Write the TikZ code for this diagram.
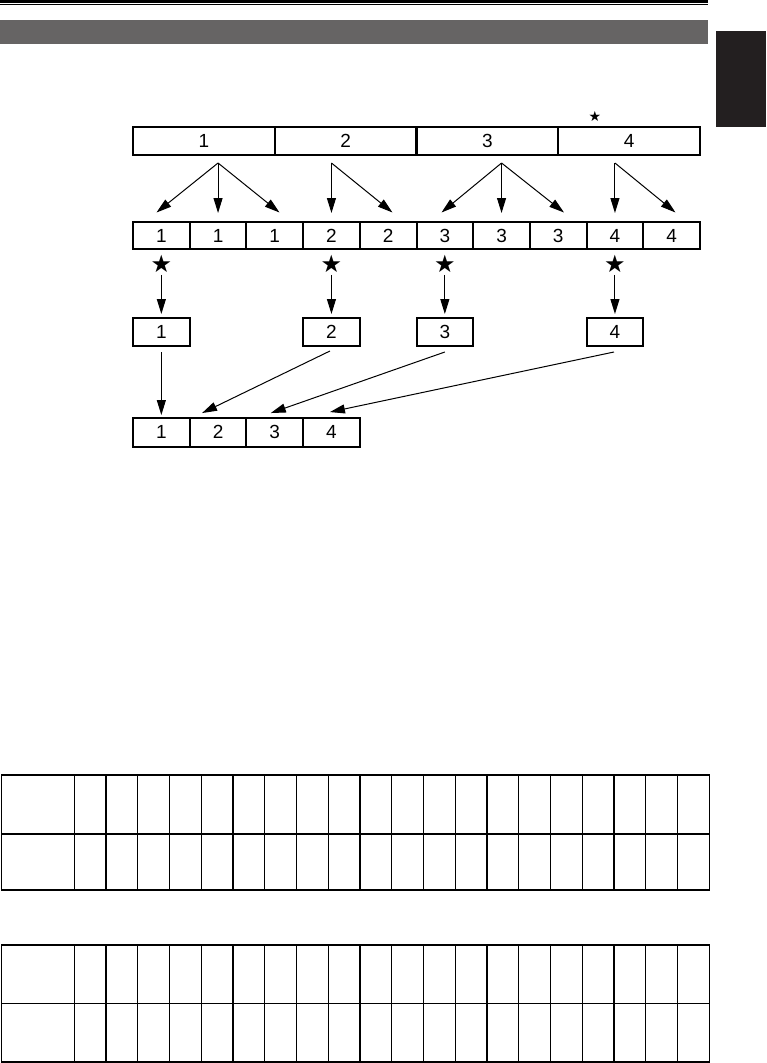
\documentclass[tikz,border=0pt]{standalone}
\usepackage{fontspec}
\setmainfont{Liberation Sans}
\newfontfamily\symfont{DejaVu Sans}
\usetikzlibrary{arrows.meta}
\definecolor{barGray}{HTML}{666464}
\definecolor{tabBlack}{HTML}{231F20}
\begin{document}
\begin{tikzpicture}[x=1pt,y=-1pt,
  cell/.style={draw, line width=2pt, inner sep=0pt, minimum width=56.7pt, minimum height=27.5pt, font=\fontsize{19}{19}\selectfont},
  wide/.style={cell, minimum width=141.75pt, minimum height=28pt},
  arr/.style={line width=1pt, -{Triangle[length=15pt,width=9pt]}},
  bigstar/.style={inner sep=0pt, font=\symfont\fontsize{24}{24}\selectfont},
  smallstar/.style={inner sep=0pt, font=\symfont\fontsize{14}{14}\selectfont},
  grid/.style={line width=1.3pt}
]
\useasboundingbox (0,0) rectangle (766,1063);
% header
\draw[line width=2.6pt] (0,1.3) -- (708,1.3);
\draw[line width=0.8pt] (0,4.6) -- (708,4.6);
\fill[barGray] (0,20) rectangle (708,44);
\fill[tabBlack] (716,31) rectangle (766,127);
% small star over top bar
\node[smallstar] (st) at (595,116.5) {★};
% top bar
\node[wide] (t1) at (203.9,141) {1};
\node[wide] (t2) at (345.6,141) {2};
\node[wide] (t3) at (487.4,141) {3};
\node[wide] (t4) at (629.1,141) {4};
% second row
\node[cell] (m1) at (161.35,235.5) {1};
\node[cell] (m2) at (218.05,235.5) {1};
\node[cell] (m3) at (274.75,235.5) {1};
\node[cell] (m4) at (331.45,235.5) {2};
\node[cell] (m5) at (388.15,235.5) {2};
\node[cell] (m6) at (444.85,235.5) {3};
\node[cell] (m7) at (501.55,235.5) {3};
\node[cell] (m8) at (558.25,235.5) {3};
\node[cell] (m9) at (614.95,235.5) {4};
\node[cell] (m10) at (671.65,235.5) {4};
% fan origins
\coordinate (f1) at (218.05,163);
\coordinate (f2) at (331.45,163);
\coordinate (f3) at (501.55,163);
\coordinate (f4) at (614.95,163);
% fan tips
\coordinate (p1) at (156.5,212.5);
\coordinate (p2) at (218.05,213);
\coordinate (p3) at (279.5,212.5);
\coordinate (p4) at (331.45,213);
\coordinate (p5) at (392.5,212.5);
\coordinate (p6) at (441.5,212.5);
\coordinate (p7) at (501.55,213);
\coordinate (p8) at (564,212.5);
\coordinate (p9) at (614.95,213);
\coordinate (p10) at (675.5,212.5);
\draw[arr] (f1) -- (p1);
\draw[arr] (f1) -- (p2);
\draw[arr] (f1) -- (p3);
\draw[arr] (f2) -- (p4);
\draw[arr] (f2) -- (p5);
\draw[arr] (f3) -- (p6);
\draw[arr] (f3) -- (p7);
\draw[arr] (f3) -- (p8);
\draw[arr] (f4) -- (p9);
\draw[arr] (f4) -- (p10);
% stars
\node[bigstar] (s1) at (161.35,264) {★};
\node[bigstar] (s2) at (331.45,264) {★};
\node[bigstar] (s3) at (444.85,264) {★};
\node[bigstar] (s4) at (614.95,264) {★};
% selected boxes
\node[cell, minimum height=28pt] (b1) at (161.35,332) {1};
\node[cell, minimum height=28pt] (b2) at (331.45,332) {2};
\node[cell, minimum height=28pt] (b3) at (444.85,332) {3};
\node[cell, minimum height=28pt] (b4) at (614.95,332) {4};
\draw[arr, shorten <=2pt, shorten >=3pt] (s1) -- (b1);
\draw[arr, shorten <=2pt, shorten >=3pt] (s2) -- (b2);
\draw[arr, shorten <=2pt, shorten >=3pt] (s3) -- (b3);
\draw[arr, shorten <=2pt, shorten >=3pt] (s4) -- (b4);
% bottom row
\node[cell, minimum height=28.5pt] (r1) at (161.35,432.3) {1};
\node[cell, minimum height=28.5pt] (r2) at (218.05,432.3) {2};
\node[cell, minimum height=28.5pt] (r3) at (274.75,432.3) {3};
\node[cell, minimum height=28.5pt] (r4) at (331.45,432.3) {4};
\draw[arr] ([yshift=-5pt]b1.south) -- ([yshift=2pt]r1.north);
\draw[arr] ([xshift=-1.5pt,yshift=-4pt]b2.south) -- ([xshift=-16pt,yshift=4pt]r2.north);
\draw[arr] ([yshift=-5pt]b3.south) -- ([xshift=-4pt,yshift=4pt]r3.north);
\draw[arr] ([xshift=-1pt,yshift=-5pt]b4.south) -- ([xshift=-1.5pt,yshift=5pt]r4.north);
% table 1
\draw[grid] (1.5,775) rectangle (709.3,890);
\draw[grid] (1.5,834) -- (709.3,834);
\foreach \k in {0,...,19} {
  \draw[grid] ({74.3+31.75*\k},775) -- ({74.3+31.75*\k},890);
}
% table 2
\draw[grid] (1.5,945) rectangle (709.3,1062);
\draw[grid] (1.5,1003.3) -- (709.3,1003.3);
\foreach \k in {0,...,19} {
  \draw[grid] ({74.3+31.75*\k},945) -- ({74.3+31.75*\k},1062);
}
\end{tikzpicture}
\end{document}
